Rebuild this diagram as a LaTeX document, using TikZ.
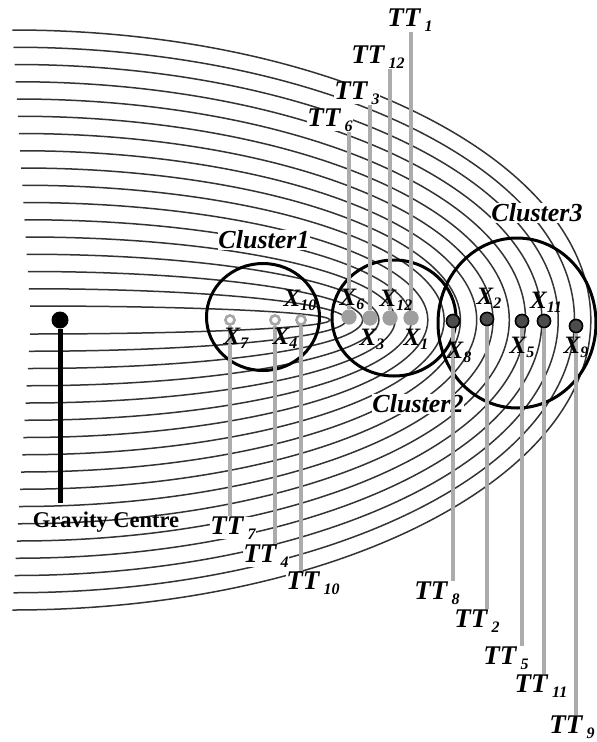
\documentclass[tikz,border=0pt]{standalone}
\usepackage{fontspec}
\setmainfont{Liberation Serif}
\usetikzlibrary{shapes.geometric}
\newcommand{\ttsub}[1]{TT\,\raisebox{-0.4ex}{\fontsize{16}{16}\selectfont #1}}
\newcommand{\xsub}[1]{X\raisebox{-0.35ex}{\fontsize{16}{16}\selectfont #1}}

\begin{document}
\begin{tikzpicture}[
    x=1pt, y=-1pt,
    orbit/.style={draw=black!80, line width=1.5pt},
    cluster/.style={ellipse, draw=black, line width=3pt, inner sep=0pt},
    hollowpt/.style={circle, draw=gray!70, fill=white, line width=2.5pt,
                     minimum size=9pt, inner sep=0pt},
    greypt/.style={circle, fill=gray!75, minimum size=15pt, inner sep=0pt},
    darkpt/.style={circle, draw=black, fill=gray!60!black, line width=1.5pt,
                   minimum size=13pt, inner sep=0pt},
    gdot/.style={circle, fill=black, minimum size=17pt, inner sep=0pt},
    gline/.style={draw=black, line width=5pt},
    ttline/.style={draw=gray!65, line width=3.5pt},
    ttlbl/.style={font=\fontsize{27}{27}\selectfont\bfseries\itshape,
                  fill=white, inner sep=0pt},
    xlbl/.style={font=\fontsize{25}{25}\selectfont\bfseries\itshape, inner sep=0pt},
    clbl/.style={font=\fontsize{26}{26}\selectfont\bfseries\itshape,
                 fill=white, inner sep=0.5pt},
    glbl/.style={font=\fontsize{22.5}{22.5}\selectfont\bfseries, inner sep=0pt}
]
\useasboundingbox (0,0) rectangle (597,742);

\foreach \k in {0,...,16}{
    \pgfmathsetmacro{\ry}{14+17.25*\k}
    \pgfmathsetmacro{\rx}{300+17.4*\k}
    \pgfmathsetmacro{\xo}{30-1.1*\k}
    \draw[orbit] (\xo,320+\ry) arc[start angle=90, end angle=-90,
                                   x radius=\rx, y radius=\ry];
}

\node[gdot] (gc) at (60,320) {};
\coordinate (gcfoot) at (60,503);
\draw[gline] (gc) -- (gcfoot);
\node[glbl] (gclbl) at (106,522) {Gravity Centre};

\node[cluster, minimum width=113pt, minimum height=107pt] (c1) at (263,317) {};
\node[cluster, minimum width=124pt, minimum height=116pt] (c2) at (394,318) {};
\node[cluster, minimum width=158pt, minimum height=170pt] (c3) at (517,323) {};
\node[clbl] (c1lbl) at (264,240) {Cluster1};
\node[clbl] (c2lbl) at (418,404) {Cluster2};
\node[clbl] (c3lbl) at (537,213) {Cluster3};

\node[ttlbl] (tt7)  at (233,528) {\ttsub{7}};
\node[ttlbl] (tt4)  at (266,556) {\ttsub{4}};
\node[ttlbl] (tt10) at (313,583) {\ttsub{10}};
\node[ttlbl] (tt6)  at (330,120) {\ttsub{6}};
\node[ttlbl] (tt3)  at (357,93)  {\ttsub{3}};
\node[ttlbl] (tt12) at (378,57)  {\ttsub{12}};
\node[ttlbl] (tt1)  at (410,20)  {\ttsub{1}};
\node[ttlbl] (tt8)  at (437,593) {\ttsub{8}};
\node[ttlbl] (tt2)  at (477,621) {\ttsub{2}};
\node[ttlbl] (tt5)  at (506,658) {\ttsub{5}};
\node[ttlbl] (tt11) at (541,686) {\ttsub{11}};
\node[ttlbl] (tt9)  at (572,727) {\ttsub{9}};

\node[hollowpt] (x7)  at (230,320) {};
\node[hollowpt] (x4)  at (275,320) {};
\node[hollowpt] (x10) at (301,320) {};
\node[greypt] (x6)  at (349,317) {};
\node[greypt] (x3)  at (370,318) {};
\node[greypt] (x12) at (390,318) {};
\node[greypt] (x1)  at (411,318) {};
\node[darkpt] (x8)  at (453,321) {};
\node[darkpt] (x2)  at (487,319) {};
\node[darkpt] (x5)  at (522,321) {};
\node[darkpt] (x11) at (544,321) {};
\node[darkpt] (x9)  at (576,326) {};

\draw[ttline] (x7)  -- (x7 |- tt7.north);
\draw[ttline] (x4)  -- (x4 |- tt4.north);
\draw[ttline] (x10) -- (x10 |- tt10.north);
\draw[ttline] (x6)  -- (x6 |- tt6.south);
\draw[ttline] (x3)  -- (x3 |- tt3.south);
\draw[ttline] (x12) -- (x12 |- tt12.south);
\draw[ttline] (x1)  -- (x1 |- tt1.south);
\draw[ttline] (x8)  -- (x8 |- tt8.north);
\draw[ttline] (x2)  -- (x2 |- tt2.north);
\draw[ttline] (x5)  -- (x5 |- tt5.north);
\draw[ttline] (x11) -- (x11 |- tt11.north);
\draw[ttline] (x9)  -- (x9 |- tt9.north);

\node[hollowpt] at (x7) {};
\node[hollowpt] at (x4) {};
\node[hollowpt] at (x10) {};
\node[greypt] at (x6) {};
\node[greypt] at (x3) {};
\node[greypt] at (x12) {};
\node[greypt] at (x1) {};
\node[darkpt] at (x8) {};
\node[darkpt] at (x2) {};
\node[darkpt] at (x5) {};
\node[darkpt] at (x11) {};
\node[darkpt] at (x9) {};

\node[xlbl] (x7lbl)  at (236,338) {\xsub{7}};
\node[xlbl] (x4lbl)  at (285,338) {\xsub{4}};
\node[xlbl] (x10lbl) at (300,300) {\xsub{10}};
\node[xlbl] (x6lbl)  at (352,299) {\xsub{6}};
\node[xlbl] (x12lbl) at (396,300) {\xsub{12}};
\node[xlbl] (x3lbl)  at (372,339) {\xsub{3}};
\node[xlbl] (x1lbl)  at (416,339) {\xsub{1}};
\node[xlbl] (x8lbl)  at (459,352) {\xsub{8}};
\node[xlbl] (x2lbl)  at (489,298) {\xsub{2}};
\node[xlbl] (x11lbl) at (546,302) {\xsub{11}};
\node[xlbl] (x5lbl)  at (522,347) {\xsub{5}};
\node[xlbl] (x9lbl)  at (576,347) {\xsub{9}};
\end{tikzpicture}
\end{document}
